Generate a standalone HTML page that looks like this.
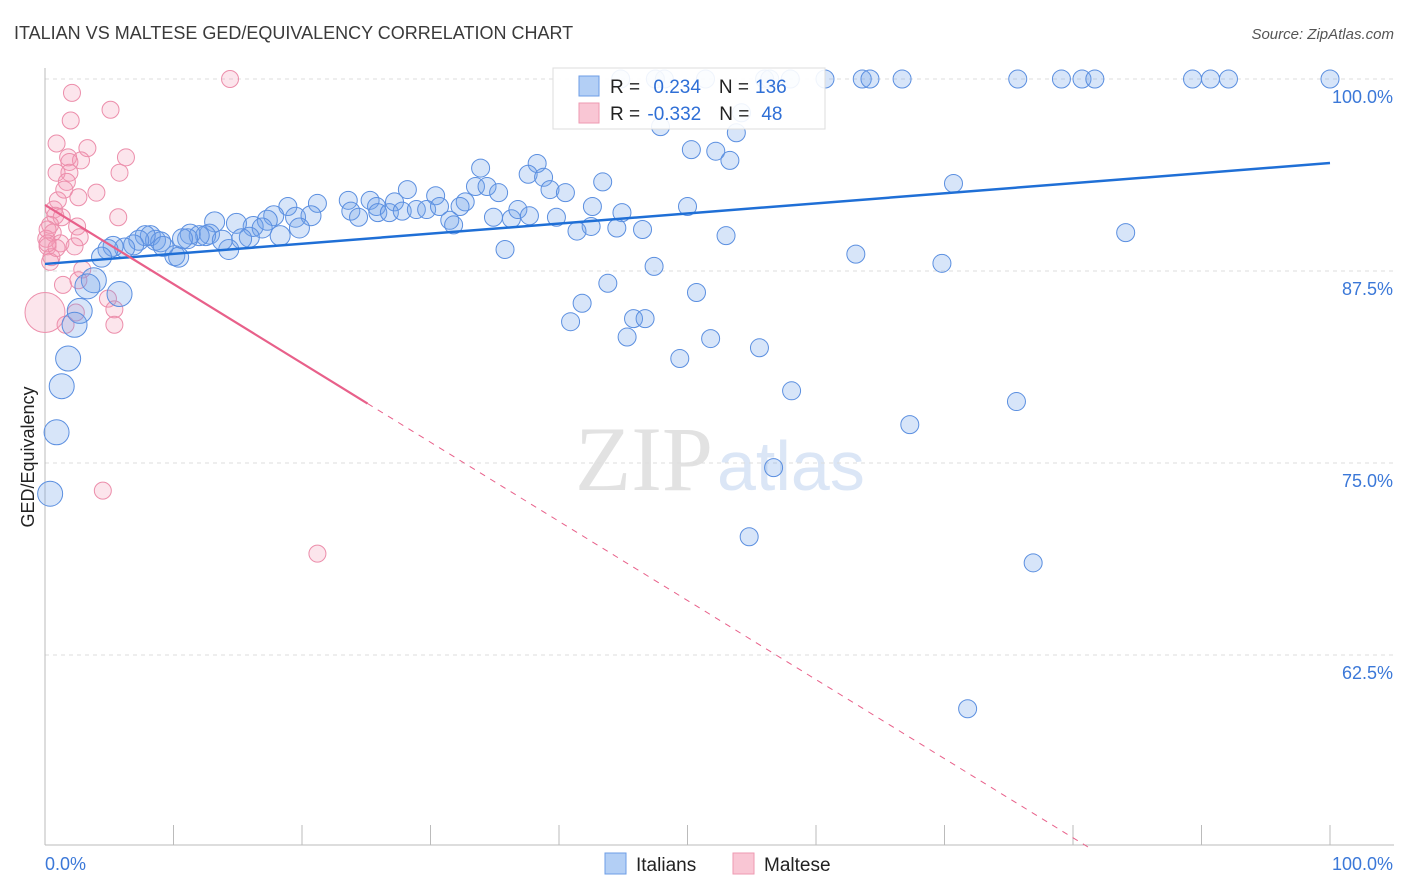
<!DOCTYPE html>
<html><head><meta charset="utf-8"><style>
body{margin:0;background:#fff;font-family:"Liberation Sans",sans-serif}
#wrap{position:relative;width:1406px;height:892px;overflow:hidden}
</style></head><body>
<div id="wrap">
<svg id="chart" width="1406" height="892" xmlns="http://www.w3.org/2000/svg">
<text x="14" y="39" font-size="18" fill="#3a3a3a">ITALIAN VS MALTESE GED/EQUIVALENCY CORRELATION CHART</text>
<text x="1394" y="39" font-size="15" fill="#555" font-style="italic" text-anchor="end">Source: ZipAtlas.com</text>
<text x="713" y="490" font-size="92" fill="#e2e2e2" font-family="Liberation Serif,serif" text-anchor="end">ZIP</text>
<text x="717" y="490" font-size="70" fill="#dbe6f6">atlas</text>
<text transform="translate(34,457) rotate(-90)" font-size="18" fill="#222" text-anchor="middle">GED/Equivalency</text>
<g id="grid"></g><g id="marks"></g><g id="lines"></g>
<g>
<rect x="553" y="68" width="272" height="61" fill="#fff" fill-opacity="0.9" stroke="#ddd"/>
<rect x="579" y="76" width="20" height="20" fill="#b3cff5" stroke="#6c9de6"/>
<rect x="579" y="103" width="20" height="20" fill="#f9c6d4" stroke="#ee9ab2"/>
<text x="610" y="93" font-size="19" fill="#222">R = <tspan fill="#2f6fd6" dx="8">0.234</tspan><tspan fill="#222" dx="18">N =</tspan><tspan fill="#2f6fd6" dx="6">136</tspan></text>
<text x="610" y="120" font-size="19" fill="#222">R = <tspan fill="#2f6fd6" dx="2">-0.332</tspan><tspan fill="#222" dx="18">N =</tspan><tspan fill="#2f6fd6" dx="12">48</tspan></text>
</g>
<g>
<rect x="605" y="853" width="21" height="21" fill="#b3cff5" stroke="#6c9de6"/>
<text x="636" y="871" font-size="19" fill="#222">Italians</text>
<rect x="733" y="853" width="21" height="21" fill="#f9c6d4" stroke="#ee9ab2"/>
<text x="764" y="871" font-size="19" fill="#222">Maltese</text>
</g>
</svg>
</div>
<script>
const yTicks=[100,87.5,75,62.5];
const yTickLabels=["100.0%","87.5%","75.0%","62.5%"];
const xTicks=[0,10,20,30,40,50,60,70,80,90,100];
const blueX=[48.2,51.4,56.0,56.4,58.0,60.7,63.6,64.2,66.7,75.7,79.1,80.7,81.7,89.3,90.7,92.1,100,44.8,47.5,
47.9,53.8,54.2,50.3,52.2,53.3,33.9,38.3,37.6,38.8,43.4,33.5,34.4,35.3,39.3,40.5,70.7,28.2,30.4,32.7,32.3,42.6,44.9,50.0,21.2,18.9,23.6,25.3,25.8,23.8,27.2,25.9,24.4,26.8,27.8,28.9,29.7,30.7,31.5,31.8,34.9,36.3,36.8,37.7,39.8,42.5,41.4,44.5,46.5,53.0,84.1,35.8,63.1,69.8,47.4,43.8,50.7,41.8,40.9,45.8,46.7,45.3,49.4,51.8,55.6,58.1,67.3,75.6,56.7,54.8,76.9,71.8,
17.8,17.3,19.5,20.7,19.8,18.3,16.2,16.9,14.9,15.9,15.3,13.2,12.8,12.5,12.0,11.3,11.1,10.1,10.4,8.2,8.6,9.0,7.8,7.3,6.9,6.2,5.3,4.9,4.4,14.3,13.8,10.7,9.2,3.8,3.3,5.8,2.7,2.3,1.8,1.3,0.9,0.4];
const blueY=[100,100,100,100,100,100,100,100,100,100,100,100,100,100,100,100,100,100,100,
96.9,96.5,97.8,95.4,95.3,94.7,94.2,94.5,93.8,93.6,93.3,93.0,93.0,92.6,92.8,92.6,93.2,92.8,92.4,92.0,91.7,91.7,91.3,91.7,91.9,91.7,92.1,92.1,91.7,91.4,92.0,91.3,91.0,91.3,91.4,91.5,91.5,91.7,90.8,90.5,91.0,90.9,91.5,91.1,91.0,90.4,90.1,90.3,90.2,89.8,90.0,88.9,88.6,88.0,87.8,86.7,86.1,85.4,84.2,84.4,84.4,83.2,81.8,83.1,82.5,79.7,77.5,79.0,74.7,70.2,68.5,59.0,
91.1,90.8,91.0,91.1,90.3,89.8,90.4,90.3,90.6,89.7,89.6,90.7,89.9,89.8,89.8,89.9,89.6,88.5,88.4,89.8,89.5,89.4,89.8,89.5,89.2,89.0,89.1,88.9,88.4,88.9,89.5,89.6,89.1,86.9,86.5,86.0,84.9,84.0,81.8,80.0,77.0,73.0];
const pinkX=[14.4,2.1,5.1,2.0,0.9,3.3,1.8,6.3,2.8,1.9,1.9,5.8,0.9,1.7,1.5,4.0,2.6,1.0,0.7,0.8,1.3,5.7,2.5,0.4,0.6,0.1,1.2,2.7,0.2,2.3,0.5,0.4,1.4,2.9,2.6,4.9,5.4,2.4,1.6,5.4,0.0,4.5,21.2,0.9,0.2,0.2];
const pinkY=[100,99.1,98.0,97.3,95.8,95.5,94.9,94.9,94.7,94.6,93.9,93.9,93.9,93.3,92.8,92.6,92.3,92.1,91.5,91.1,91.0,91.0,90.4,90.5,90.0,89.6,89.3,89.7,89.1,89.1,88.4,88.1,86.6,87.6,86.9,85.7,85.0,84.8,84.0,84.0,84.8,73.2,69.1,89.0,90.2,89.3];
const blueTrend=[87.96,94.53];
const pinkTrend=[91.8,-0.515];
const pinkSolidEnd=25.1;
const X0=45,X1=1330,Y100=79,PXPER=15.36;
function sx(v){return X0+(X1-X0)*v/100;}
function sy(v){return Y100+(100-v)*PXPER;}
const NS="http://www.w3.org/2000/svg";
function mk(tag,attrs,parent){const e=document.createElementNS(NS,tag);for(const k in attrs)e.setAttribute(k,attrs[k]);parent.appendChild(e);return e;}
const grid=document.getElementById('grid'),marks=document.getElementById('marks'),lines=document.getElementById('lines');
yTicks.forEach((t,i)=>{
 const l=mk('line',{x1:45,x2:1394,y1:sy(t),y2:sy(t),stroke:'#ddd','stroke-dasharray':'4,4'},grid);
 
 
 const tx=mk('text',{x:1393,y:sy(t)+24,'font-size':18,fill:'#3b78d8','text-anchor':'end'},grid);
 tx.textContent=yTickLabels[i];
 
 
});
const ax=mk('line',{x1:45,x2:45,y1:68,y2:845,stroke:'#bbb'},grid);


const bx=mk('line',{x1:45,x2:1394,y1:845,y2:845,stroke:'#bbb'},grid);


xTicks.forEach(t=>{
 const l=mk('line',{x1:sx(t),x2:sx(t),y1:825,y2:845,stroke:'#bbb'},grid);
 
 
});
const xl0=mk('text',{x:45,y:870,'font-size':18,fill:'#3b78d8'},grid);xl0.textContent='0.0%';


const xl1=mk('text',{x:1393,y:870,'font-size':18,fill:'#3b78d8','text-anchor':'end'},grid);xl1.textContent='100.0%';


pinkX.forEach((x,i)=>{
 const big=(i===40);
 const c=mk('circle',{cx:sx(x),cy:sy(pinkY[i]),r:big?20:8.5,fill:'rgba(244,150,180,0.25)',stroke:'#ec8eab','stroke-width':1},marks);
 
 
});
blueX.forEach((x,i)=>{
 const r=i>=blueX.length-9?12.5:(i>=blueX.length-42?10:9);
 const c=mk('circle',{cx:sx(x),cy:sy(blueY[i]),r:r,fill:'rgba(110,160,235,0.28)',stroke:'#5b8fe0','stroke-width':1},marks);
 
 
});
const bl=mk('line',{x1:sx(0),y1:sy(blueTrend[0]),x2:sx(100),y2:sy(blueTrend[1]),stroke:'#1f6fd6','stroke-width':2.5},lines);


const pf=x=>pinkTrend[0]+pinkTrend[1]*x;
const pl=mk('line',{x1:sx(0),y1:sy(pf(0)),x2:sx(pinkSolidEnd),y2:sy(pf(pinkSolidEnd)),stroke:'#e8608a','stroke-width':2.2},lines);


const xe=(pinkTrend[0]-50)/(-pinkTrend[1]);
const pd=mk('line',{x1:sx(pinkSolidEnd),y1:sy(pf(pinkSolidEnd)),x2:sx(xe),y2:sy(50),stroke:'#e8608a','stroke-width':1,'stroke-dasharray':'6,6'},lines);


</script>
</body></html>
